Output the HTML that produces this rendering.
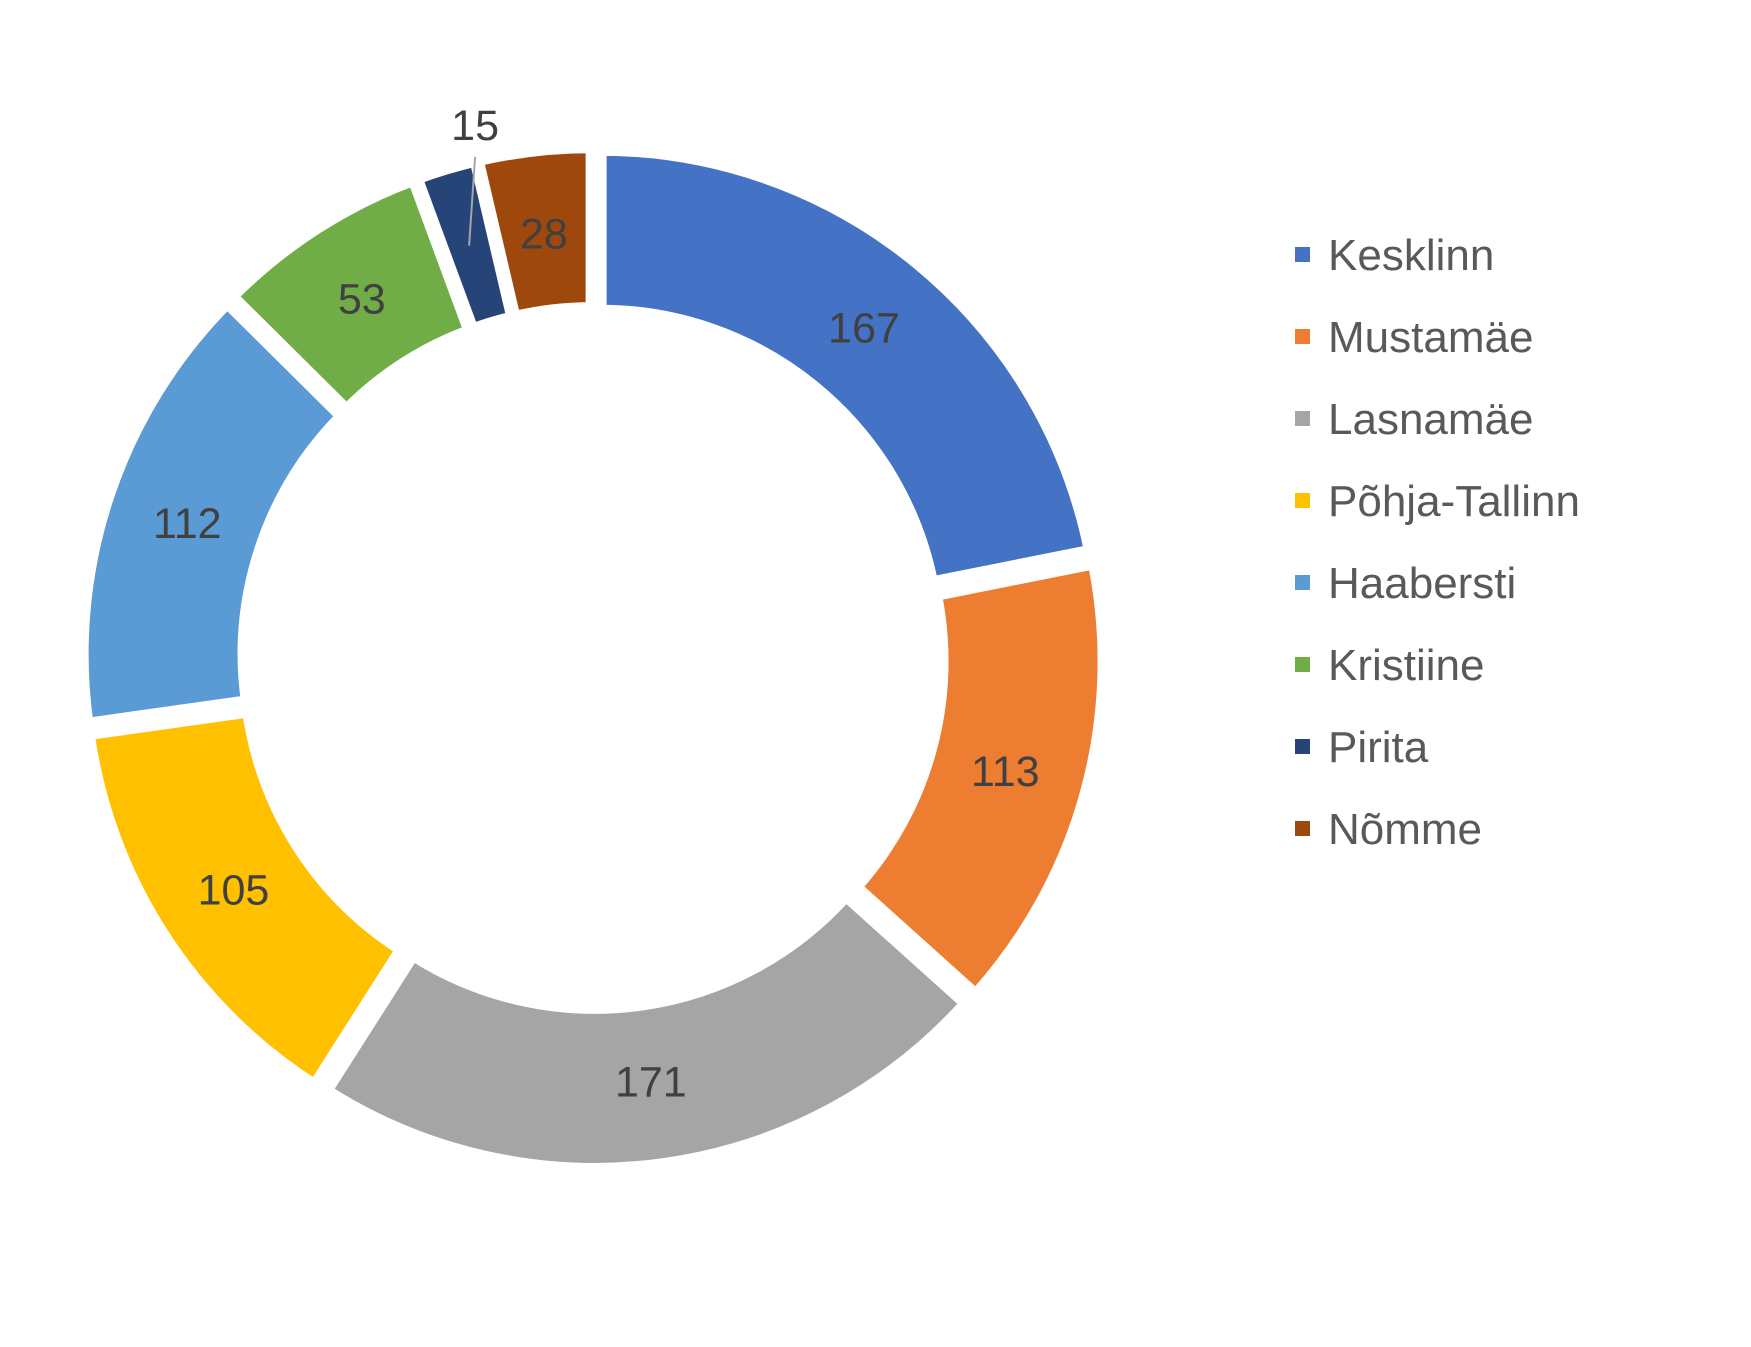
<!DOCTYPE html>
<html><head><meta charset="utf-8"><style>
html,body{margin:0;padding:0;background:#fff}
svg{display:block}
text{font-family:"Liberation Sans",Arial,sans-serif}
</style></head><body>
<svg id="chart" width="1751" height="1347" viewBox="0 0 1751 1347" xmlns="http://www.w3.org/2000/svg">
<rect width="1751" height="1347" fill="#fff"/>
<g id="slices"></g>
<g id="labels"></g>
<g id="legend"></g>
</svg>
<script>
const categories = ["Kesklinn","Mustamäe","Lasnamäe","Põhja-Tallinn","Haabersti","Kristiine","Pirita","Nõmme"];
const values = [167,113,171,105,112,53,15,28];
const colors = ["#4472C4","#ED7D31","#A5A5A5","#FFC000","#5B9BD5","#70AD47","#264478","#9E480E"];

const NS="http://www.w3.org/2000/svg";
const cx=593, cy=658, R=499, r=338, explode=12;
const total=values.reduce((a,b)=>a+b,0);
const sG=document.getElementById('slices'), lG=document.getElementById('labels'), gG=document.getElementById('legend');
function pt(a,rad,ox,oy){return [ox+rad*Math.sin(a), oy-rad*Math.cos(a)];}
let acc=0;
values.forEach((v,i)=>{
  const a0=acc/total*2*Math.PI; acc+=v; const a1=acc/total*2*Math.PI;
  const am=(a0+a1)/2;
  const ox=cx+explode*Math.sin(am), oy=cy-explode*Math.cos(am);
  const p1=pt(a0,R,ox,oy),p2=pt(a1,R,ox,oy),p3=pt(a1,r,ox,oy),p4=pt(a0,r,ox,oy);
  const large=(a1-a0)>Math.PI?1:0;
  const path=document.createElementNS(NS,'path');
  path.setAttribute('d',`M${p1[0]},${p1[1]} A${R},${R} 0 ${large} 1 ${p2[0]},${p2[1]} L${p3[0]},${p3[1]} A${r},${r} 0 ${large} 0 ${p4[0]},${p4[1]} Z`);
  path.setAttribute('fill',colors[i]);
  path.setAttribute('stroke','#fff');
  path.setAttribute('stroke-width','12');
  path.setAttribute('stroke-linejoin','miter');
  
  
  sG.appendChild(path);
  const t=document.createElementNS(NS,'text');
  let lp;
  if(v/total<0.03){
    lp=pt(am,(R+r)/2,ox,oy);
    const ln=document.createElementNS(NS,'line');
    ln.setAttribute('x1',lp[0]);ln.setAttribute('y1',lp[1]);
    ln.setAttribute('x2',lp[0]+6);ln.setAttribute('y2',cy-R-2);
    ln.setAttribute('stroke','#A5A5A5');ln.setAttribute('stroke-width','2');
    
    
    lG.appendChild(ln);
    t.setAttribute('x',lp[0]+6);t.setAttribute('y',cy-R-19);
  } else {
    lp=pt(am,(R+r)/2-3,ox,oy);
    t.setAttribute('x',lp[0]);t.setAttribute('y',lp[1]+15);
  }
  t.setAttribute('text-anchor','middle');
  t.setAttribute('font-size','43');
  t.setAttribute('fill','#404040');
  t.textContent=v;
  
  
  lG.appendChild(t);
  const y=255+i*82;
  const sq=document.createElementNS(NS,'rect');
  sq.setAttribute('x',1295);sq.setAttribute('y',y-8);sq.setAttribute('width',15);sq.setAttribute('height',15);
  sq.setAttribute('fill',colors[i]);
  
  
  gG.appendChild(sq);
  const lt=document.createElementNS(NS,'text');
  lt.setAttribute('x',1328);lt.setAttribute('y',y+15);
  lt.setAttribute('font-size','44');lt.setAttribute('fill','#595959');
  lt.textContent=categories[i];
  
  
  gG.appendChild(lt);
});
</script>
</body></html>
